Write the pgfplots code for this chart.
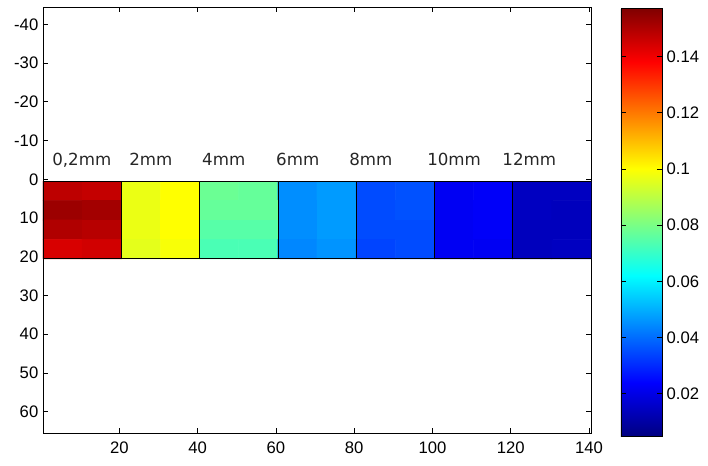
\documentclass[border=0pt]{standalone}
\usepackage{pgfplots}
\usepackage{pgfplotstable}
\pgfplotsset{compat=1.18}
\usepackage{fontspec}
\setmainfont{Liberation Sans}
\newfontfamily\labelfont{DejaVu Sans}

\pgfplotstableread{
x y c
5.5 3 0.148
15.5 3 0.147
25.5 3 0.097
35.5 3 0.100
45.5 3 0.078
55.5 3 0.077
65.5 3 0.045
75.5 3 0.047
85.5 3 0.035
95.5 3 0.036
105.5 3 0.022
115.5 3 0.023
125.5 3 0.0145
135.5 3 0.0145
5.5 8 0.153
15.5 8 0.152
25.5 8 0.097
35.5 8 0.100
45.5 8 0.077
55.5 8 0.077
65.5 8 0.045
75.5 8 0.047
85.5 8 0.035
95.5 8 0.036
105.5 8 0.022
115.5 8 0.023
125.5 8 0.0145
135.5 8 0.0140
5.5 13 0.150
15.5 13 0.149
25.5 13 0.097
35.5 13 0.100
45.5 13 0.075
55.5 13 0.075
65.5 13 0.045
75.5 13 0.047
85.5 13 0.035
95.5 13 0.035
105.5 13 0.022
115.5 13 0.023
125.5 13 0.0140
135.5 13 0.0140
5.5 18 0.144
15.5 18 0.145
25.5 18 0.096
35.5 18 0.099
45.5 18 0.073
55.5 18 0.073
65.5 18 0.044
75.5 18 0.046
85.5 18 0.034
95.5 18 0.035
105.5 18 0.022
115.5 18 0.022
125.5 18 0.0140
135.5 18 0.0145
}\squares

\begin{document}
\begin{tikzpicture}
\useasboundingbox (-32.25pt,-24pt) rectangle (498.75pt,324.75pt);
\begin{axis}[
  at={(0,0)}, anchor=south west,
  scale only axis,
  width=411pt, height=319.5pt,
  xmin=0.5, xmax=140.5,
  ymin=-44.5, ymax=65.5,
  y dir=reverse,
  axis line style={black, line width=0.6pt},
  tick align=inside,
  major tick length=4pt,
  tick style={black, line width=0.6pt},
  xtick={20,40,60,80,100,120,140},
  xticklabels={20,40,60,80,100,120,140},
  ytick={-40,-30,-20,-10,0,10,20,30,40,50,60},
  yticklabels={-40,-30,-20,-10,0,10,20,30,40,50,60},
  tick label style={font=\fontsize{12.5}{14}\selectfont},
  xticklabel style={yshift=-3pt},
  colormap/jet,
  point meta min=0.0048, point meta max=0.1572,
  colorbar,
  colorbar/width=30.75pt,
  colorbar style={
    at={(parent axis.north east)}, anchor=north west,
    xshift=13.96pt, yshift=-1pt,
    scale only axis,
    width=30.75pt, height=321pt,
    ytick={0.02,0.04,0.06,0.08,0.1,0.12,0.14},
    yticklabels={0.02,0.04,0.06,0.08,0.1,0.12,0.14},
    scaled y ticks=false,
    tick align=inside,
    major tick length=4pt,
    ytick pos=both,
    yticklabel pos=right,
    axis line style={black, line width=0.6pt},
    tick style={black, line width=0.6pt},
    tick label style={font=\fontsize{12.5}{14}\selectfont},
  },
]
\addplot[matrix plot*, mesh/cols=14, point meta=explicit] table[x=x, y=y, meta=c] {\squares};
\addplot[black, line width=0.6pt] coordinates {(0.5,0.5) (140.5,0.5) (140.5,20.5) (0.5,20.5) (0.5,0.5)};
\addplot[black, line width=0.5pt] coordinates {(20.5,0.5) (20.5,20.5)};
\addplot[black, line width=0.5pt] coordinates {(40.5,0.5) (40.5,20.5)};
\addplot[black, line width=0.5pt] coordinates {(60.5,0.5) (60.5,20.5)};
\addplot[black, line width=0.5pt] coordinates {(80.5,0.5) (80.5,20.5)};
\addplot[black, line width=0.5pt] coordinates {(100.5,0.5) (100.5,20.5)};
\addplot[black, line width=0.5pt] coordinates {(120.5,0.5) (120.5,20.5)};
\begin{scope}[every node/.style={anchor=base west, inner sep=0pt, font=\labelfont\fontsize{12.5}{14}\selectfont, text=black!85}]
\node at (axis cs:2.8,-3.5) {0,2mm};
\node at (axis cs:22.5,-3.5) {2mm};
\node at (axis cs:41.1,-3.5) {4mm};
\node at (axis cs:60.0,-3.5) {6mm};
\node at (axis cs:78.7,-3.5) {8mm};
\node at (axis cs:98.6,-3.5) {10mm};
\node at (axis cs:117.8,-3.5) {12mm};
\end{scope}
\end{axis}
\end{tikzpicture}
\end{document}
